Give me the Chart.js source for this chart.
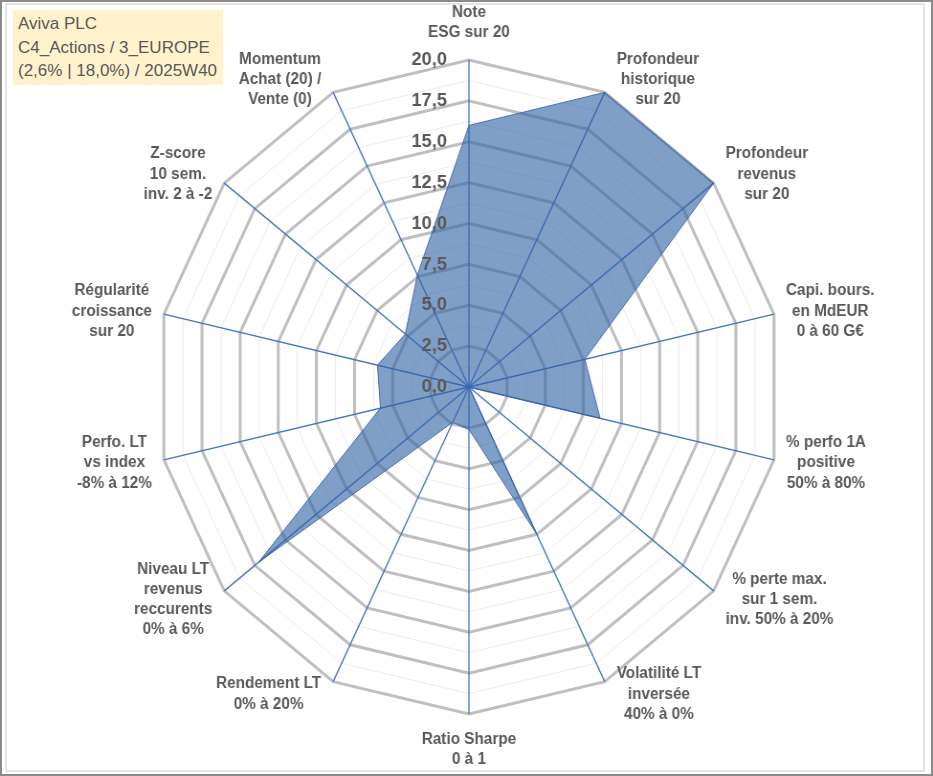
<!DOCTYPE html>
<html lang="fr">
<head>
<meta charset="utf-8">
<title>Aviva PLC - radar</title>
<script src="https://cdn.jsdelivr.net/npm/chart.js@4.4.1/dist/chart.umd.min.js"></script>
<style>
  html, body { margin: 0; padding: 0; background: #fff; overflow: hidden; }
  #wrap { position: absolute; left: 0; top: 0; width: 975px; height: 776px; transform: scaleX(0.957); transform-origin: 0 0; }
  #frame { position: absolute; left: 0; top: 0; width: 933px; height: 776px; box-sizing: border-box; border: 2px solid #8a8a8a; pointer-events: none; }
  #inner { position: absolute; left: 5px; top: 3px; width: 920px; height: 769px; box-sizing: border-box; border: 2px solid #e4e4e4; pointer-events: none; }
  #title { position: absolute; left: 13px; top: 10px; width: 210px; height: 75px; box-sizing: border-box; padding: 2px 0 0 5px;
           background: #fff2cc; color: #595959; font: 17px "Liberation Sans", Arial, sans-serif; line-height: 23.5px; white-space: nowrap; }
</style>
</head>
<body>
<div id="wrap"><canvas id="radar" width="975" height="776"></canvas></div>
<div id="inner"></div>
<div id="frame"></div>
<div id="title">Aviva PLC<br>C4_Actions / 3_EUROPE<br>(2,6% | 18,0%) / 2025W40</div>
<script>
// axes, clockwise from the top
const axisLabels = [
  ["Note", "ESG sur 20"],
  ["Profondeur", "historique", "sur 20"],
  ["Profondeur", "revenus", "sur 20"],
  ["Capi. bours.", "en MdEUR", "0 à 60 G€"],
  ["% perfo 1A", "positive", "50% à 80%"],
  ["% perte max.", "sur 1 sem.", "inv. 50% à 20%"],
  ["Volatilité LT", "inversée", "40% à 0%"],
  ["Ratio Sharpe", "0 à 1"],
  ["Rendement LT", "0% à 20%"],
  ["Niveau LT", "revenus", "reccurents", "0% à 6%"],
  ["Perfo. LT", "vs index", "-8% à 12%"],
  ["Régularité", "croissance", "sur 20"],
  ["Z-score", "10 sem.", "inv. 2 à -2"],
  ["Momentum", "Achat (20) /", "Vente (0)"]
];
const scores = [16.0, 20.0, 20.0, 7.6, 8.6, 0.0, 10.0, 2.6, 2.4, 17.2, 5.8, 6.0, 5.2, 7.6];
const scaleMin = 0;
const scaleMax = 20;
const majorStep = 2.5;
const minorStep = 1.25;

const isMajor = v => Math.abs(v / majorStep - Math.round(v / majorStep)) < 1e-6;
const fmt = v => v.toFixed(1).replace(".", ",");
const textColor = "#595959";

// tick values, drawn left of the vertical axis, over the filled area
const tickLabels = {
  id: "tickLabels",
  afterDatasetsDraw(chart) {
    const r = chart.scales.r;
    const ctx = chart.ctx;
    ctx.save();
    ctx.font = "bold 19px 'Liberation Sans', Arial, sans-serif";
    ctx.fillStyle = textColor;
    ctx.textAlign = "right";
    ctx.textBaseline = "middle";
    r.ticks.forEach(t => {
      if (!isMajor(t.value)) return;
      const d = r.getDistanceFromCenterForValue(t.value);
      ctx.fillText(fmt(t.value), r.xCenter - 23, r.yCenter - d);
    });
    ctx.restore();
  }
};

// axis names placed next to each spoke tip
const axisNames = {
  id: "axisNames",
  afterDraw(chart) {
    const r = chart.scales.r;
    const ctx = chart.ctx;
    const n = axisLabels.length;
    const lh = 20.3;
    ctx.save();
    ctx.font = "bold 16px 'Liberation Sans', Arial, sans-serif";
    ctx.fillStyle = textColor;
    ctx.textAlign = "center";
    ctx.textBaseline = "middle";
    axisLabels.forEach((lines, i) => {
      const a = i * 2 * Math.PI / n;
      const s = Math.sin(a), c = Math.cos(a);
      const tip = r.getPointPosition(i, r.drawingArea);
      const w = Math.max(...lines.map(l => ctx.measureText(l).width));
      const h = lines.length * lh;
      let cx, top;
      if (Math.abs(s) < 0.01) {
        cx = tip.x;
        top = c > 0 ? tip.y - 17 - h : tip.y + 15;
      } else {
        cx = tip.x + Math.sign(s) * (12.5 + w / 2);
        top = tip.y - 14 * c - h / 2;
      }
      lines.forEach((l, k) => ctx.fillText(l, cx, top + lh * (k + 0.5)));
    });
    ctx.restore();
  }
};

new Chart(document.getElementById("radar"), {
  type: "radar",
  data: {
    labels: axisLabels,
    datasets: [{
      data: scores,
      backgroundColor: "rgba(50, 100, 165, 0.62)",
      borderColor: "rgba(60, 100, 170, 0.9)",
      borderWidth: 1,
      pointRadius: 0,
      fill: true,
      tension: 0
    }]
  },
  options: {
    responsive: false,
    animation: false,
    layout: { padding: { left: 163, right: 158, top: 60, bottom: 62 } },
    plugins: {
      legend: { display: false },
      tooltip: { enabled: false }
    },
    scales: {
      r: {
        min: scaleMin,
        max: scaleMax,
        ticks: { display: false, stepSize: minorStep },
        pointLabels: { display: false },
        grid: {
          circular: false,
          color: c => isMajor(c.tick.value) ? "#bfbfbf" : "#ececec",
          lineWidth: c => isMajor(c.tick.value) ? 3 : 1
        },
        angleLines: { color: "#4472c4", lineWidth: 1.3 }
      }
    }
  },
  plugins: [tickLabels, axisNames]
});
</script>
</body>
</html>
